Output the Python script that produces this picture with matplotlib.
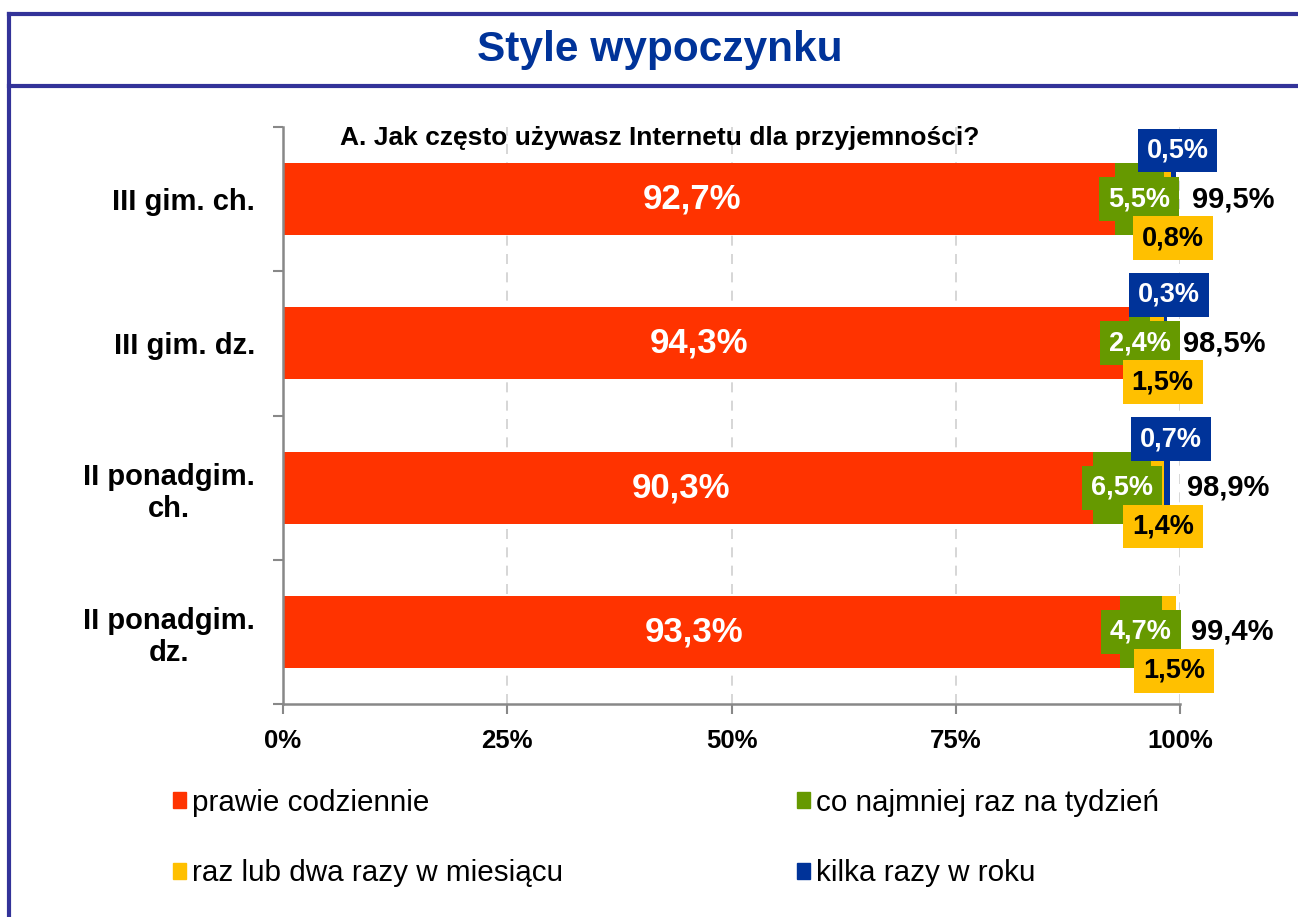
import matplotlib.pyplot as plt
from matplotlib.patches import Patch
from matplotlib.lines import Line2D

plt.rcParams['font.family'] = ['Liberation Sans', 'DejaVu Sans']

# data
categories = ['III gim. ch.', 'III gim. dz.', 'II ponadgim.\nch.', 'II ponadgim.\ndz.']
daily = [92.7, 94.3, 90.3, 93.3]
weekly = [5.5, 2.4, 6.5, 4.7]
monthly = [0.8, 1.5, 1.4, 1.5]
yearly = [0.5, 0.3, 0.7, 0.0]
totals = [99.5, 98.5, 98.9, 99.4]
series_names = ['prawie codziennie', 'co najmniej raz na tydzień',
                'raz lub dwa razy w miesiącu', 'kilka razy w roku']
x_ticks = [0, 25, 50, 75, 100]

RED = '#FF3300'
GREEN = '#669900'
YELLOW = '#FFC000'
BLUE = '#003399'
FRAME = '#333399'


def pct(v):
    return f'{v:.1f}%'.replace('.', ',')


fig = plt.figure(figsize=(12.98, 9.17), dpi=100)
ax = fig.add_axes([283/1298, 1 - 704/917, 897/1298, 577/917])

ypos = list(range(len(categories)))
left = [0.0] * len(categories)
colors = [RED, GREEN, YELLOW, BLUE]
series = [daily, weekly, monthly, yearly]
for vals, col in zip(series, colors):
    ax.barh(ypos, vals, left=left, height=0.5, color=col, zorder=2)
    left = [l + v for l, v in zip(left, vals)]

# labels
box_font = 19.5
for i in ypos:
    d, w, m, y = daily[i], weekly[i], monthly[i], yearly[i]
    ax.annotate(pct(d), (d / 2, i), xytext=(-5, 0), textcoords='offset points',
                ha='center', va='center', color='white',
                fontsize=25, fontweight='bold', zorder=5)
    ax.annotate(pct(w), (d + w / 2, i), xytext=(0, 0), textcoords='offset points',
                ha='center', va='center', color='white', fontsize=box_font, fontweight='bold',
                bbox=dict(boxstyle='square,pad=0.33', fc=GREEN, ec='none'), zorder=6)
    ax.annotate(pct(m), (d + w + m / 2, i), xytext=(4, -28), textcoords='offset points',
                ha='center', va='center', color='black', fontsize=box_font, fontweight='bold',
                bbox=dict(boxstyle='square,pad=0.33', fc=YELLOW, ec='none'), zorder=6)
    if y > 0:
        ax.annotate(pct(y), (d + w + m + y / 2, i), xytext=(3, 35), textcoords='offset points',
                    ha='center', va='center', color='white', fontsize=box_font, fontweight='bold',
                    bbox=dict(boxstyle='square,pad=0.33', fc=BLUE, ec='none'), zorder=6)
    ax.annotate(pct(totals[i]), (totals[i], i), xytext=(12, 0), textcoords='offset points',
                ha='left', va='center', color='black', fontsize=21, fontweight='bold', zorder=6)

ax.set_xlim(0, 100)
ax.set_ylim(len(categories) - 0.5, -0.5)

ax.set_xticks(x_ticks)
ax.set_xticklabels([f'{t}%' for t in x_ticks], fontsize=18.5, fontweight='bold')
ax.set_yticks([k - 0.5 for k in range(len(categories) + 1)])
ax.set_yticklabels([])
ax.set_yticks(ypos, minor=True)
ax.set_yticklabels(categories, minor=True, fontsize=21, fontweight='bold', multialignment='center')
ax.tick_params(axis='y', which='minor', length=0, pad=20)
ax.tick_params(axis='both', which='major', length=7, width=1.5, color='#888888')
ax.tick_params(axis='x', pad=11)

ax.xaxis.grid(True, linestyle=(0, (6, 5)), color='#d0d0d0', linewidth=1.2, zorder=0)
ax.set_axisbelow(True)
for s in ['top', 'right']:
    ax.spines[s].set_visible(False)
for s in ['left', 'bottom']:
    ax.spines[s].set_color('#888888')
    ax.spines[s].set_linewidth(1.8)

fig.text(0.508, 1 - 138/917, 'A. Jak często używasz Internetu dla przyjemności?',
         ha='center', va='center', fontsize=19, fontweight='bold')
fig.text(0.508, 1 - 50/917, 'Style wypoczynku', ha='center', va='center',
         fontsize=30.5, fontweight='bold', color=BLUE)

# frame
fig.add_artist(Line2D([9/1298, 1], [1 - 14/917] * 2, transform=fig.transFigure, color=FRAME, lw=3))
fig.add_artist(Line2D([9/1298, 1], [1 - 86/917] * 2, transform=fig.transFigure, color=FRAME, lw=3))
fig.add_artist(Line2D([9/1298] * 2, [0, 1 - 14/917], transform=fig.transFigure, color=FRAME, lw=3))

# legend (column-wise fill)
handles = [Patch(color=c) for c in colors]
order = [0, 2, 1, 3]
fig.legend([handles[k] for k in order], [series_names[k] for k in order],
           ncol=2, loc='center left', bbox_to_anchor=(173/1298, 1 - 838/917),
           frameon=False, fontsize=21.3, handlelength=0.45, handleheight=0.45,
           handletextpad=0.2, columnspacing=7.9, labelspacing=1.44,
           borderpad=0, borderaxespad=0)

fig.savefig('out.png', dpi=100)
